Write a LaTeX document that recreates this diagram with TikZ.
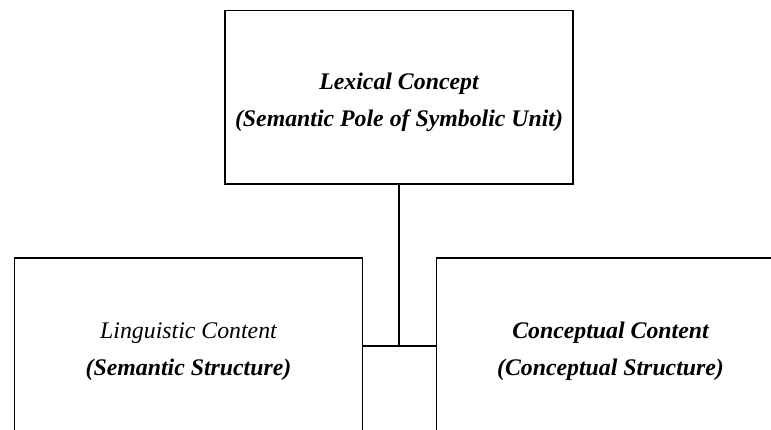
\documentclass[tikz,border=0pt]{standalone}
\usepackage{fontspec}
\setmainfont{Liberation Serif}
\newcommand{\toppad}{\rule{0pt}{27pt}}
\begin{document}
\begin{tikzpicture}[x=1pt,y=1pt,
  box/.style={draw=black, line width=1.1pt, rectangle, inner sep=0pt,
    minimum width=348pt, minimum height=175pt, align=center,
    font=\fontsize{23.8}{37.5}\selectfont\bfseries\itshape},
  conn/.style={draw=black, line width=1.1pt}]
\useasboundingbox (0,0) rectangle (771,-430);
\clip (0,0) rectangle (771,-430);
\node[box, minimum height=173.5pt] (lex) at (399,-97.3) {\toppad Lexical Concept\\(Semantic Pole of Symbolic Unit)};
\node[box, minimum height=176pt] (ling) at (188.5,-346) {\toppad{\mdseries Linguistic Content}\\(Semantic Structure)};
\node[box, minimum height=176pt] (conc) at (610.5,-346) {\toppad Conceptual Content\\(Conceptual Structure)};
\coordinate (j) at (lex.south |- ling.east);
\draw[conn] (lex.south) -- (j);
\draw[conn] (ling.east) -- (conc.west);
\end{tikzpicture}
\end{document}
